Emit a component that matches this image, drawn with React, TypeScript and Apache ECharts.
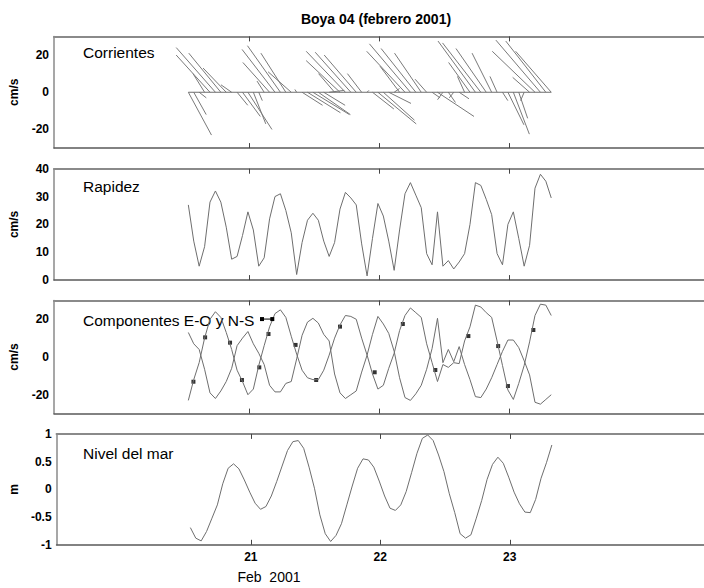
import React, { useEffect, useRef } from "react";
import * as echarts from "echarts";

// Hourly samples starting Feb 20, ~12:48 (time in days of February 2001)
const START_DAY = 20.5333;
const HOURS_PER_DAY = 24;

// Rapidez (cm/s)
const speed = [
  27, 14, 5, 12, 28, 32, 28, 19, 7.5, 8.5,
  16, 24.5, 18, 5, 8, 22, 30, 31, 25, 17,
  2, 13.5, 21.5, 24, 21.5, 14, 8.5, 13.5, 25.5, 31.5,
  29.5, 27, 13, 1.5, 15, 27.5, 23, 14, 3.5, 18,
  31, 35, 30.5, 26, 9.5, 5.5, 24.5, 5, 7, 4,
  6.5, 9.5, 20, 35, 34, 29, 23.5, 9.5, 5.5, 20,
  24.5, 15, 5, 12.5, 33, 38, 35.5, 29.5,
];

// Componente E-O (cm/s)
const uEO = [
  13, 7, 4, -6.5, -19, -22, -18, -13, -6, 6,
  10, 13.5, 7, 2, -4, -15, -18.5, -18.5, -14, -13,
  -1, 11.5, 18.5, 20.5, 18, 12, 8.5, -9, -19, -22,
  -20, -18, -8, 1, 12, 21.5, 17.5, 12.5, 3, -11,
  -21.5, -23, -19.5, -15, -6.5, 4.5, 20.5, -3, 4, -2.5,
  5.5, -4, -12, -21, -21.5, -17, -11, -4, 3, 9,
  9, 5, -2, -9.5, -24, -25, -22.5, -20,
];

// Componente N-S (cm/s)
const vNS = [
  -23, -12, -3, 10, 20, 24, 21, 13, 4, -7,
  -13, -20, -17, -4.5, 6, 16, 23, 25, 21, 11,
  1.5, -7, -11, -12, -12, -7, 1, 10, 17, 22,
  21.5, 20, 10, 1, -9, -17, -15, -6, 2, 14,
  22, 26, 23.5, 21, 7, -3, -13, -4, -5.5, -3,
  -3.5, 8.5, 16, 27.5, 26.5, 23.5, 21, 8.5, -4.5, -17.5,
  -22.5, -14, -4.5, 8, 22, 28, 27.5, 22,
];

// Nivel del mar (m)
const seaLevel = [
  -0.69, -0.88, -0.93, -0.76, -0.52, -0.28, 0.1, 0.38, 0.46, 0.37,
  0.17, -0.05, -0.25, -0.36, -0.31, -0.12, 0.14, 0.42, 0.7, 0.86,
  0.88, 0.74, 0.4, 0.02, -0.46, -0.8, -0.94, -0.83, -0.62, -0.28,
  0.06, 0.38, 0.55, 0.53, 0.4, 0.15, -0.12, -0.34, -0.38, -0.28,
  -0.04, 0.3, 0.65, 0.92, 0.98, 0.88, 0.62, 0.32, -0.08, -0.42,
  -0.8, -0.88, -0.82, -0.52, -0.2, 0.18, 0.45, 0.58, 0.47, 0.22,
  -0.05, -0.26, -0.41, -0.42, -0.18, 0.2, 0.48, 0.8,
];

// Square markers in the components panel (day, cm/s)
const markerDays = [
  20.5725, 20.6625, 20.8542, 20.9458, 21.0792, 21.15, 21.3583, 21.5167,
  21.7, 21.9667, 22.1833, 22.4333, 22.6875, 22.9167, 22.9917, 23.1875,
];
const markerValues = [
  -13.1, 10.4, 7.6, -12.2, -5.5, 12.2, 6.4, -12.2,
  16.1, -8.1, 17.5, -6.9, 11.1, 5.8, -15.4, 14.3,
];
const keyDays = [21.1, 21.1792];
const keyValues = [20.1, 20.1];

// Axes
const X_MIN = 19.5;
const X_MAX = 24.5;
const xTicks = [21, 22, 23];
const currentTicks = [-20, 0, 20];
const speedTicks = [0, 10, 20, 30, 40];
const componentTicks = [-20, 0, 20];
const levelTicks = [-1, -0.5, 0, 0.5, 1];

const STICK_SCALE = 0.0137; // days per cm/s for the stick plot

const FONT = "Liberation Sans, Arial, sans-serif";
const LINE_COLOR = "#6e6e6e";

export default function App() {
  const ref = useRef<HTMLDivElement>(null);

  useEffect(() => {
    if (!ref.current) return;
    const chart = echarts.init(ref.current, undefined, { renderer: "svg" });

    const times = speed.map((_, i) => START_DAY + i / HOURS_PER_DAY);
    const pairs = (vals: number[]) => vals.map((v, i) => [times[i], v]);

    const tops = [36.4, 168.7, 300.4, 433.9];
    const heights = [111.7, 111.4, 113.2, 110.9];
    const grids = tops.map((t, i) => ({
      left: 52.5,
      width: 658,
      top: t,
      height: heights[i],
      containLabel: false,
    }));

    const xAxes: any[] = [];
    tops.forEach((_, g) => {
      xAxes.push({
        type: "value",
        gridIndex: g,
        position: "bottom",
        min: X_MIN,
        max: X_MAX,
        axisLine: { show: true, onZero: false, lineStyle: { color: "#5a5a5a", width: 1.5 } },
        axisTick: { show: true, inside: true, length: 5, customValues: xTicks, lineStyle: { color: "#444", width: 1 } },
        axisLabel: {
          show: g === 3,
          customValues: xTicks,
          fontSize: 12,
          fontWeight: "bold",
          fontFamily: FONT,
          color: "#000",
          margin: 6,
        },
        splitLine: { show: false },
      });
      xAxes.push({
        type: "value",
        gridIndex: g,
        position: "top",
        min: X_MIN,
        max: X_MAX,
        axisLine: { show: true, onZero: false, lineStyle: { color: "#8a8a8a", width: 2 } },
        axisTick: { show: true, inside: true, length: 5, customValues: xTicks, lineStyle: { color: "#444", width: 1 } },
        axisLabel: { show: false },
        splitLine: { show: false },
      });
    });

    const yAxis = (g: number, min: number, max: number, ticks: number[], name: string) => ({
      type: "value",
      gridIndex: g,
      min,
      max,
      name,
      nameLocation: "middle",
      nameGap: 34,
      nameTextStyle: { fontSize: 12, fontWeight: "bold", fontFamily: FONT, color: "#000" },
      axisLine: { show: true, onZero: false, lineStyle: { color: "#8a8a8a", width: 1.5 } },
      axisTick: { show: false },
      axisLabel: {
        customValues: ticks,
        fontSize: 12,
        fontWeight: "bold",
        fontFamily: FONT,
        color: "#000",
        margin: 5,
      },
      splitLine: { show: false },
    });

    const lineSeries = (xi: number, yi: number, data: number[][]) => ({
      type: "line",
      xAxisIndex: xi,
      yAxisIndex: yi,
      data,
      showSymbol: false,
      symbol: "none",
      silent: true,
      lineStyle: { color: LINE_COLOR, width: 1 },
    });

    const label = (text: string, x: number, y: number) => ({
      type: "text",
      x,
      y,
      style: {
        text,
        fontSize: 15.5,
        fontFamily: FONT,
        fill: "#000",
        align: "left",
        verticalAlign: "middle",
      },
    });

    chart.setOption({
      animation: false,
      backgroundColor: "#ffffff",
      grid: grids,
      xAxis: xAxes,
      yAxis: [
        yAxis(0, -30, 30, currentTicks, "cm/s"),
        yAxis(1, 0, 40, speedTicks, "cm/s"),
        yAxis(2, -30, 30, componentTicks, "cm/s"),
        yAxis(3, -1, 1, levelTicks, "m"),
      ],
      series: [
        {
          type: "custom",
          xAxisIndex: 0,
          yAxisIndex: 0,
          silent: true,
          clip: true,
          encode: { x: 0, y: 2 },
          data: times.map((t, i) => [t, uEO[i], vNS[i]]),
          renderItem: (_params: any, api: any) => {
            const t = api.value(0);
            const u = api.value(1);
            const v = api.value(2);
            const p0 = api.coord([t, 0]);
            const p1 = api.coord([t + u * STICK_SCALE, v]);
            return {
              type: "line",
              shape: { x1: p0[0], y1: p0[1], x2: p1[0], y2: p1[1] },
              style: { stroke: "#7a7a7a", lineWidth: 1 },
            };
          },
        },
        lineSeries(0, 0, [
          [times[0], 0],
          [times[times.length - 1], 0],
        ]),
        lineSeries(2, 1, pairs(speed)),
        lineSeries(4, 2, pairs(uEO)),
        lineSeries(4, 2, pairs(vNS)),
        {
          type: "scatter",
          xAxisIndex: 4,
          yAxisIndex: 2,
          symbol: "rect",
          symbolSize: 4,
          silent: true,
          itemStyle: { color: "#000" },
          data: markerDays.map((d, i) => [d, markerValues[i]]),
        },
        {
          type: "line",
          xAxisIndex: 4,
          yAxisIndex: 2,
          symbol: "rect",
          symbolSize: 4,
          showSymbol: true,
          silent: true,
          lineStyle: { color: "#000", width: 1 },
          itemStyle: { color: "#000" },
          data: keyDays.map((d, i) => [d, keyValues[i]]),
        },
        lineSeries(6, 3, pairs(seaLevel)),
      ],
      graphic: [
        {
          type: "text",
          x: 376,
          y: 19,
          style: {
            text: "Boya 04 (febrero 2001)",
            fontSize: 14,
            fontWeight: "bold",
            fontFamily: FONT,
            fill: "#000",
            align: "center",
            verticalAlign: "middle",
          },
        },
        label("Corrientes", 83, 52),
        label("Rapidez", 83, 186),
        label("Componentes E-O y N-S", 83, 320),
        label("Nivel del mar", 83, 453),
        {
          type: "text",
          x: 269,
          y: 577,
          style: {
            text: "Feb  2001",
            fontSize: 14,
            fontFamily: FONT,
            fill: "#000",
            align: "center",
            verticalAlign: "middle",
          },
        },
      ],
    });

    return () => chart.dispose();
  }, []);

  return (
    <div
      ref={ref}
      style={{ position: "absolute", left: 0, top: 0, width: 704, height: 588 }}
    />
  );
}
